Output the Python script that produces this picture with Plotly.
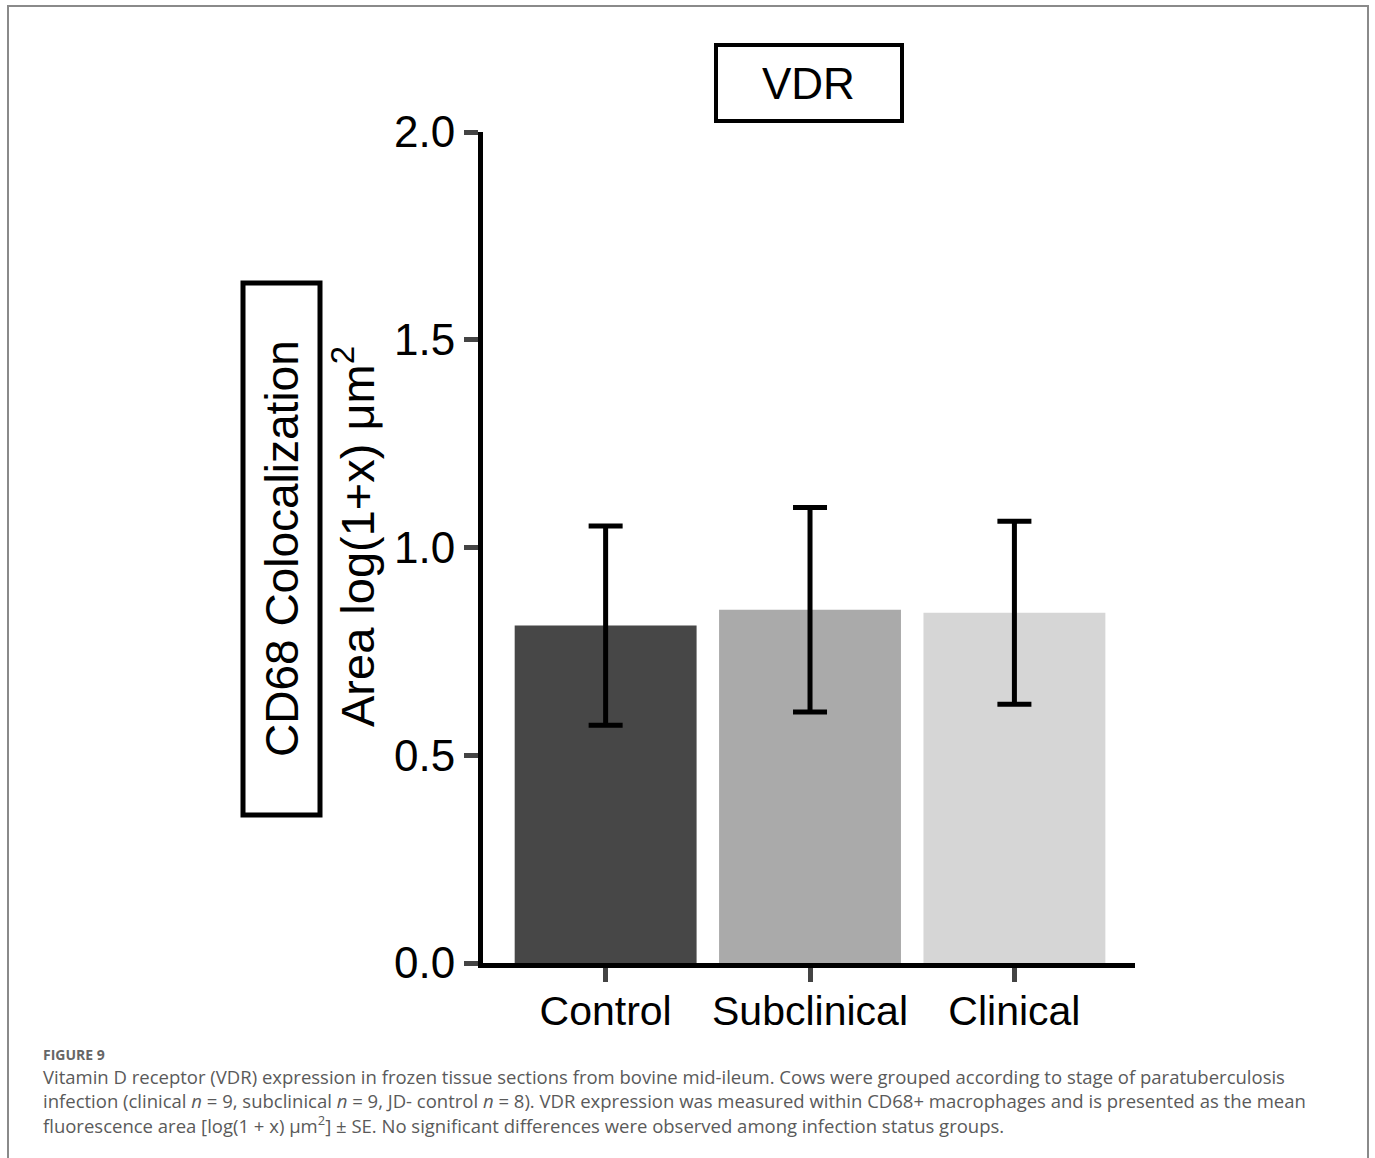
import plotly.graph_objects as go

categories = ["Control", "Subclinical", "Clinical"]
means = [0.812, 0.850, 0.843]
se = [0.240, 0.246, 0.220]
bar_colors = ["#474747", "#aaaaaa", "#d6d6d6"]
y_ticks = [0.0, 0.5, 1.0, 1.5, 2.0]
y_tick_text = ["0.0", "0.5", "1.0", "1.5", "2.0"]

W, H = 1375, 1158

def px(x):
    return x / W

def py(y):
    return 1 - y / H

fig = go.Figure()
fig.add_trace(go.Bar(
    x=categories, y=means,
    marker=dict(color=bar_colors, line=dict(width=0)),
    width=0.89,
    error_y=dict(type="data", array=se, visible=True, color="black",
                 thickness=5, width=17),
    showlegend=False,
))

font_main = "Liberation Sans, Arial, Helvetica, sans-serif"

fig.update_layout(
    width=W, height=H, autosize=False,
    margin=dict(l=0, r=0, t=0, b=0, pad=0, autoexpand=False),
    paper_bgcolor="white", plot_bgcolor="white",
    xaxis=dict(
        domain=[px(483), px(1135)],
        range=[-0.6, 2.59],
        automargin=False,
        showline=True, linecolor="black", linewidth=5,
        ticks="outside", ticklen=14, tickwidth=5, tickcolor="#444444",
        ticklabelstandoff=-6,
        tickfont=dict(family=font_main, size=41, color="black"),
        showgrid=False, zeroline=False,
    ),
    yaxis=dict(
        domain=[py(963), py(132)],
        range=[0, 2],
        automargin=False,
        tickvals=y_ticks, ticktext=y_tick_text,
        showline=True, linecolor="black", linewidth=5,
        ticks="outside", ticklen=14, tickwidth=5, tickcolor="#444444",
        tickfont=dict(family=font_main, size=44, color="black"),
        showgrid=False, zeroline=False,
    ),
)

shapes = [
    # outer figure frame (open at the bottom edge of the page)
    dict(type="rect", xref="paper", yref="paper",
         x0=px(8), x1=px(1368), y0=py(1190), y1=py(6),
         line=dict(color="#8a8a8a", width=2)),
    # VDR title box
    dict(type="rect", xref="paper", yref="paper",
         x0=px(716), x1=px(902), y0=py(121), y1=py(45),
         line=dict(color="black", width=4)),
    # y-title box
    dict(type="rect", xref="paper", yref="paper",
         x0=px(243), x1=px(320), y0=py(815), y1=py(283),
         line=dict(color="black", width=5)),
]
fig.update_layout(shapes=shapes)

annotations = [
    dict(text="VDR", x=px(809), y=py(83), xref="paper", yref="paper",
         showarrow=False, font=dict(family=font_main, size=44, color="black"),
         xanchor="center", yanchor="middle"),
    dict(text="CD68 Colocalization", x=px(282), y=py(549), xref="paper", yref="paper",
         showarrow=False, textangle=-90,
         font=dict(family=font_main, size=46, color="black"),
         xanchor="center", yanchor="middle"),
    dict(text="Area log(1+x) μm<sup>2</sup>", x=px(354), y=py(537), xref="paper", yref="paper",
         showarrow=False, textangle=-90,
         font=dict(family=font_main, size=47, color="black"),
         xanchor="center", yanchor="middle"),
    dict(text="<b>FIGURE 9</b>", x=px(41), y=py(1054), xref="paper", yref="paper",
         showarrow=False, xanchor="left", yanchor="middle",
         font=dict(family="Open Sans, sans-serif", size=14, color="#666666")),
]

caption_lines = [
    "Vitamin D receptor (VDR) expression in frozen tissue sections from bovine mid-ileum. Cows were grouped according to stage of paratuberculosis",
    "infection (clinical <i>n</i> = 9, subclinical <i>n</i> = 9, JD- control <i>n</i> = 8). VDR expression was measured within CD68+ macrophages and is presented as the mean",
    "fluorescence area [log(1 + x) μm<sup>2</sup>] ± SE. No significant differences were observed among infection status groups.",
]
caption_y = [1076, 1100, 1124]
for line, yy in zip(caption_lines, caption_y):
    annotations.append(dict(
        text=line, x=px(41), y=py(yy), xref="paper", yref="paper",
        showarrow=False, xanchor="left", yanchor="middle",
        font=dict(family="Open Sans, sans-serif", size=18.5, color="#5a5a5a")))

fig.update_layout(annotations=annotations)

fig.write_html("out.html")
